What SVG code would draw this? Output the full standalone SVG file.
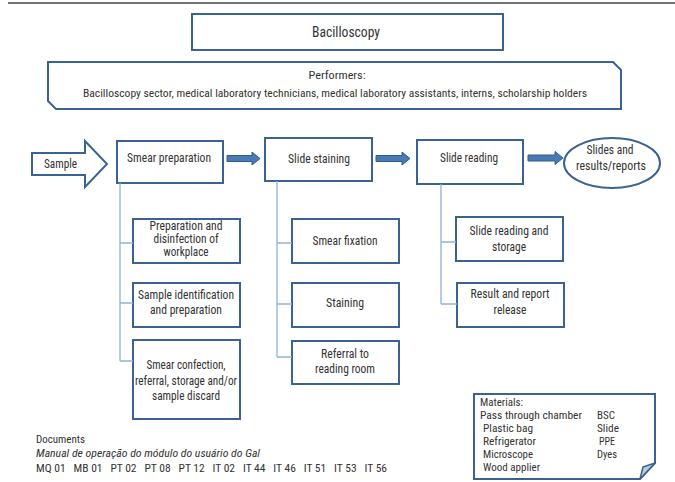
<svg xmlns="http://www.w3.org/2000/svg" width="675" height="482" viewBox="0 0 675 482">
  <style>
    text { font-family: "Roboto Condensed", "Liberation Sans Narrow", "DejaVu Sans Condensed", "Liberation Sans", sans-serif; fill: #333; font-size: 13px; }
    .c { text-anchor: middle; }
    .box { fill: #fff; stroke: #3A6393; stroke-width: 2; }
    .sub { fill: #fff; stroke: #3A6393; stroke-width: 2; }
    .link { fill: none; stroke: #8EB2DD; stroke-width: 1.3; }
    .flow { fill: #4A7AB4; stroke: #2F5C8F; stroke-width: 1; }
    .big { font-size: 14px; }
    .sm { font-size: 11.5px; }
    .tight { font-size: 12px; }
    .mat { font-size: 11px; }
  </style>

  <!-- header rule -->
  <line x1="8" y1="3" x2="675" y2="3" stroke="#444" stroke-width="1.5"/>

  <g id="title">
    <rect class="box" x="192" y="14" width="311" height="36"/>
    <text class="c big" x="346" y="37" textLength="68" lengthAdjust="spacingAndGlyphs">Bacilloscopy</text>
  </g>

  <g id="performers">
    <path class="box" d="M48,62 H613 L621,70 V109 H56 L48,101 Z"/>
    <text class="c sm" x="337" y="79" textLength="57" lengthAdjust="spacingAndGlyphs">Performers:</text>
    <text class="c sm" x="335" y="97" textLength="504" lengthAdjust="spacingAndGlyphs">Bacilloscopy sector, medical laboratory technicians, medical laboratory assistants, interns, scholarship holders</text>
  </g>

  <g id="sample">
    <path class="box" d="M32,153 H85 V141 L107,164 L85,187 V175 H32 Z"/>
    <text x="44" y="168" textLength="33" lengthAdjust="spacingAndGlyphs">Sample</text>
  </g>

  <g id="smear-preparation">
    <rect class="box" x="117" y="141" width="106" height="42"/>
    <text class="c" x="169" y="162" textLength="84" lengthAdjust="spacingAndGlyphs">Smear preparation</text>
  </g>

  <g id="slide-staining">
    <rect class="box" x="265" y="138" width="107" height="43"/>
    <text class="c" x="319" y="163" textLength="62" lengthAdjust="spacingAndGlyphs">Slide staining</text>
  </g>

  <g id="slide-reading">
    <rect class="box" x="417" y="140" width="106" height="44"/>
    <text class="c" x="469" y="162" textLength="58" lengthAdjust="spacingAndGlyphs">Slide reading</text>
  </g>

  <g id="slides-results">
    <ellipse class="box" cx="612" cy="163" rx="48" ry="25"/>
    <text class="c" x="610" y="154" textLength="47" lengthAdjust="spacingAndGlyphs">Slides and</text>
    <text class="c" x="611" y="170" textLength="70" lengthAdjust="spacingAndGlyphs">results/reports</text>
  </g>

  <g id="prep-disinfection">
    <rect class="sub" x="133" y="219" width="107" height="44"/>
    <text class="c tight" x="186" y="230" textLength="73" lengthAdjust="spacingAndGlyphs">Preparation and</text>
    <text class="c tight" x="186" y="243" textLength="65" lengthAdjust="spacingAndGlyphs">disinfection of</text>
    <text class="c tight" x="186" y="256" textLength="45" lengthAdjust="spacingAndGlyphs">workplace</text>
  </g>

  <g id="sample-identification">
    <rect class="sub" x="133" y="283" width="107" height="44"/>
    <text class="c" x="186" y="299" textLength="96" lengthAdjust="spacingAndGlyphs">Sample identification</text>
    <text class="c" x="186" y="314" textLength="72" lengthAdjust="spacingAndGlyphs">and preparation</text>
  </g>

  <g id="smear-confection">
    <rect class="sub" x="133" y="340" width="107" height="79"/>
    <text class="c" x="186" y="369" textLength="79" lengthAdjust="spacingAndGlyphs">Smear confection,</text>
    <text class="c" x="186" y="385" textLength="102" lengthAdjust="spacingAndGlyphs">referral, storage and/or</text>
    <text class="c" x="186" y="400" textLength="68" lengthAdjust="spacingAndGlyphs">sample discard</text>
  </g>

  <g id="smear-fixation">
    <rect class="sub" x="292" y="219" width="107" height="44"/>
    <text class="c" x="345" y="245" textLength="65" lengthAdjust="spacingAndGlyphs">Smear fixation</text>
  </g>

  <g id="staining">
    <rect class="sub" x="292" y="283" width="107" height="44"/>
    <text class="c" x="345" y="307" textLength="38" lengthAdjust="spacingAndGlyphs">Staining</text>
  </g>

  <g id="referral-reading-room">
    <rect class="sub" x="292" y="341" width="107" height="43"/>
    <text class="c" x="345" y="358" textLength="48" lengthAdjust="spacingAndGlyphs">Referral to</text>
    <text class="c" x="345" y="373" textLength="60" lengthAdjust="spacingAndGlyphs">reading room</text>
  </g>

  <g id="slide-reading-storage">
    <rect class="sub" x="456" y="217" width="107" height="44"/>
    <text class="c" x="509" y="235" textLength="79" lengthAdjust="spacingAndGlyphs">Slide reading and</text>
    <text class="c" x="509" y="251" textLength="34" lengthAdjust="spacingAndGlyphs">storage</text>
  </g>

  <g id="result-report-release">
    <rect class="sub" x="457" y="283" width="107" height="44"/>
    <text class="c" x="510" y="298" textLength="79" lengthAdjust="spacingAndGlyphs">Result and report</text>
    <text class="c" x="510" y="314" textLength="33" lengthAdjust="spacingAndGlyphs">release</text>
  </g>

  <g id="connectors">
    <!-- main flow arrows -->
    <path class="flow" d="M227,155.5 H252 V152 L260,158.5 L252,165 V161.5 H227 Z"/>
    <path class="flow" d="M376,155.5 H402 V152 L410,158.5 L402,165 V161.5 H376 Z"/>
    <path class="flow" d="M528,155 H555 V151.5 L563,158 L555,164.5 V161 H528 Z"/>
    <!-- sub-step trees -->
    <path class="link" d="M120,183 V361 M120,243 H133 M120,303 H133 M120,361 H133"/>
    <path class="link" d="M277,181 V357 M277,243 H292 M277,304 H292 M277,357 H292"/>
    <path class="link" d="M441,184 V304 M441,242 H456 M441,304 H457"/>
  </g>

  <g id="documents">
    <text class="sm" x="36" y="443" textLength="49" lengthAdjust="spacingAndGlyphs">Documents</text>
    <text class="sm" x="36" y="457" font-style="italic" textLength="224" lengthAdjust="spacingAndGlyphs">Manual de operação do módulo do usuário do Gal</text>
    <text class="sm" x="36" y="472" xml:space="preserve" textLength="351" lengthAdjust="spacingAndGlyphs">MQ 01   MB 01   PT 02   PT 08   PT 12   IT 02   IT 44   IT 46   IT 51   IT 53   IT 56</text>
  </g>

  <g id="materials">
    <path class="box" d="M474,394 H655 V463 L640,479 H474 Z"/>
    <path d="M655,463 L640,479 L643,467 Z" fill="#B9CBE2" stroke="#3A6393" stroke-width="1.5" stroke-linejoin="round"/>
    <text class="mat" x="480" y="406" textLength="43" lengthAdjust="spacingAndGlyphs">Materials:</text>
    <text class="mat" x="480" y="419" textLength="102" lengthAdjust="spacingAndGlyphs">Pass through chamber</text>
    <text class="mat" x="483" y="432" textLength="50" lengthAdjust="spacingAndGlyphs">Plastic bag</text>
    <text class="mat" x="483" y="445" textLength="53" lengthAdjust="spacingAndGlyphs">Refrigerator</text>
    <text class="mat" x="483" y="458" textLength="50" lengthAdjust="spacingAndGlyphs">Microscope</text>
    <text class="mat" x="483" y="471" textLength="57" lengthAdjust="spacingAndGlyphs">Wood applier</text>
    <text class="mat" x="597" y="419" textLength="18" lengthAdjust="spacingAndGlyphs">BSC</text>
    <text class="mat" x="597" y="432" textLength="22" lengthAdjust="spacingAndGlyphs">Slide</text>
    <text class="mat" x="599" y="445" textLength="16" lengthAdjust="spacingAndGlyphs">PPE</text>
    <text class="mat" x="597" y="458" textLength="20" lengthAdjust="spacingAndGlyphs">Dyes</text>
  </g>
</svg>
